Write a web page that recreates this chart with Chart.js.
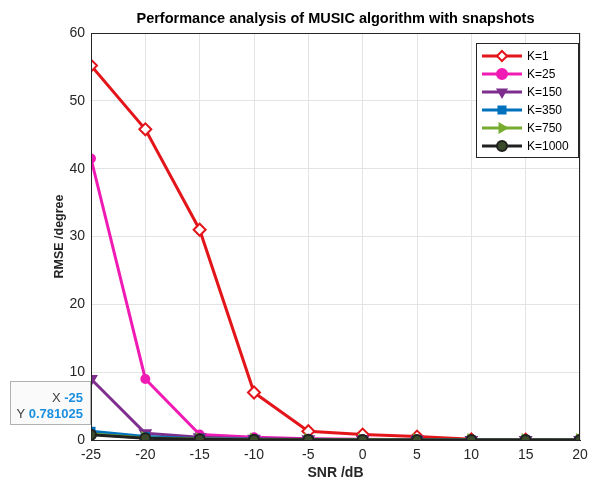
<!DOCTYPE html>
<html>
<head>
<meta charset="utf-8">
<script src="https://cdn.jsdelivr.net/npm/chart.js@4"></script>
<style>
  html, body { margin: 0; padding: 0; background: #fff; }
  #wrap { width: 595px; height: 486px; }
</style>
</head>
<body>
<div id="wrap"><canvas id="rmseChart" width="595" height="486"></canvas></div>
<script>
// SNR values (dB)
const snr = [-25, -20, -15, -10, -5, 0, 5, 10, 15, 20];

// RMSE (degree) per snapshot count
const k1    = [55.2, 45.8, 31.0, 7.0, 1.3, 0.8, 0.5, 0.1, 0.05, 0.0];
const k25   = [41.5, 9.0, 0.8, 0.4, 0.2, 0.1, 0.05, 0.02, 0.0, 0.0];
const k150  = [9.0, 1.0, 0.4, 0.2, 0.1, 0.05, 0.02, 0.0, 0.0, 0.0];
const k350  = [1.3, 0.5, 0.2, 0.1, 0.05, 0.02, 0.0, 0.0, 0.0, 0.0];
const k750  = [0.9, 0.3, 0.15, 0.08, 0.04, 0.02, 0.0, 0.0, 0.0, 0.0];
const k1000 = [0.781025, 0.25, 0.1, 0.05, 0.02, 0.01, 0.0, 0.0, 0.0, 0.0];

const xTicks = [-25, -20, -15, -10, -5, 0, 5, 10, 15, 20];
const yTicks = [0, 10, 20, 30, 40, 50, 60];

const FONT = 'Liberation Sans, Arial, Helvetica, sans-serif';
const toXY = vals => snr.map((x, i) => ({ x: x, y: vals[i] }));

function series(label, vals, color, style, order, opts) {
  return Object.assign({
    label: label,
    data: toXY(vals),
    order: order,
    borderColor: color,
    backgroundColor: color,
    borderWidth: 3,
    pointStyle: style,
    pointRadius: 5,
    pointBorderWidth: 2,
    pointBackgroundColor: color,
    pointBorderColor: color,
    tension: 0
  }, opts || {});
}

// title, frame, legend box and data tip
const decorations = {
  id: 'decorations',
  afterDraw(chart) {
    const ctx = chart.ctx;
    const a = chart.chartArea;
    ctx.save();

    // frame on top and right
    ctx.strokeStyle = '#262626';
    ctx.lineWidth = 1;
    ctx.strokeRect(a.left + 0.5, a.top + 0.5, a.right - a.left - 1, a.bottom - a.top);

    // title
    ctx.fillStyle = '#000';
    ctx.font = 'bold 14.5px ' + FONT;
    ctx.textAlign = 'center';
    ctx.textBaseline = 'middle';
    ctx.fillText('Performance analysis of MUSIC algorithm with snapshots', (a.left + a.right) / 2, 19);

    // legend
    const bx = 476, by = 43, bw = 102, bh = 114;
    ctx.fillStyle = '#fff';
    ctx.fillRect(bx, by, bw, bh);
    ctx.strokeStyle = '#262626';
    ctx.lineWidth = 1;
    ctx.strokeRect(bx + 0.5, by + 0.5, bw, bh);
    chart.data.datasets.forEach((ds, i) => {
      const yy = 56 + i * 18;
      ctx.strokeStyle = ds.borderColor;
      ctx.lineWidth = 3;
      ctx.beginPath();
      ctx.moveTo(482, yy);
      ctx.lineTo(522, yy);
      ctx.stroke();
      ctx.fillStyle = ds.pointBackgroundColor;
      ctx.strokeStyle = ds.pointBorderColor;
      ctx.lineWidth = 2;
      Chart.helpers.drawPoint(ctx, {
        pointStyle: ds.pointStyle,
        rotation: ds.pointRotation || 0,
        radius: 5,
        borderWidth: 2
      }, 502, yy);
      ctx.fillStyle = '#000';
      ctx.font = '12px ' + FONT;
      ctx.textAlign = 'left';
      ctx.textBaseline = 'middle';
      ctx.fillText(ds.label, 527, yy + 1);
    });

    // data tip
    const tx = 10, ty = 381, tw = a.left - 11, th = 43;
    ctx.fillStyle = 'rgba(250,250,250,0.95)';
    ctx.fillRect(tx, ty, tw, th);
    ctx.strokeStyle = '#b0b0b0';
    ctx.lineWidth = 1;
    ctx.strokeRect(tx + 0.5, ty + 0.5, tw, th);
    ctx.textBaseline = 'middle';
    ctx.textAlign = 'right';
    const rx = a.left - 8;
    ctx.font = 'bold 13px ' + FONT;
    ctx.fillStyle = '#1a8fe0';
    ctx.fillText('-25', rx, 398);
    const w1 = ctx.measureText('-25').width;
    ctx.fillText('0.781025', rx, 414);
    const w2 = ctx.measureText('0.781025').width;
    ctx.font = '13px ' + FONT;
    ctx.fillStyle = '#404040';
    ctx.fillText('X ', rx - w1, 398);
    ctx.fillText('Y ', rx - w2, 414);

    ctx.restore();
  }
};

new Chart(document.getElementById('rmseChart'), {
  type: 'line',
  data: {
    datasets: [
      series('K=1', k1, '#e3151a', 'rectRot', 5, { pointBackgroundColor: '#fff', pointRadius: 6 }),
      series('K=25', k25, '#f01ab4', 'circle', 4, { pointRadius: 4 }),
      series('K=150', k150, '#7e2f8e', 'triangle', 3, { pointRotation: 180, pointRadius: 6 }),
      series('K=350', k350, '#0072bd', 'rect', 2, { pointRadius: 5 }),
      series('K=750', k750, '#77ac30', 'triangle', 1, { pointRotation: 90, pointRadius: 6 }),
      series('K=1000', k1000, '#202020', 'circle', 0, { pointBackgroundColor: '#3a4a2a', pointRadius: 5 })
    ]
  },
  options: {
    responsive: false,
    animation: false,
    layout: { padding: { left: 52, right: 15, top: 33, bottom: 0 } },
    plugins: {
      legend: { display: false },
      title: { display: false },
      tooltip: { enabled: false }
    },
    scales: {
      x: {
        type: 'linear',
        min: -25,
        max: 20,
        afterFit: s => { s.height = 46; },
        afterBuildTicks: s => { s.ticks = xTicks.map(v => ({ value: v })); },
        ticks: { color: '#262626', font: { family: FONT, size: 14 }, padding: 7, maxRotation: 0 },
        grid: { color: '#e3e3e3', drawTicks: false },
        border: { color: '#262626' },
        title: { display: true, text: 'SNR /dB', color: '#262626', font: { family: FONT, size: 14, weight: 'bold' }, padding: { top: 0, bottom: 4 } }
      },
      y: {
        min: 0,
        max: 60,
        afterFit: s => { s.width = 39; },
        afterBuildTicks: s => { s.ticks = yTicks.map(v => ({ value: v })); },
        ticks: { color: '#262626', font: { family: FONT, size: 14 }, padding: 6 },
        grid: { color: '#e3e3e3', drawTicks: false },
        border: { color: '#262626' },
        title: { display: true, text: 'RMSE /degree', color: '#262626', font: { family: FONT, size: 12.5, weight: 'bold' }, padding: { top: 0, bottom: 0 } }
      }
    }
  },
  plugins: [decorations]
});
</script>
</body>
</html>
